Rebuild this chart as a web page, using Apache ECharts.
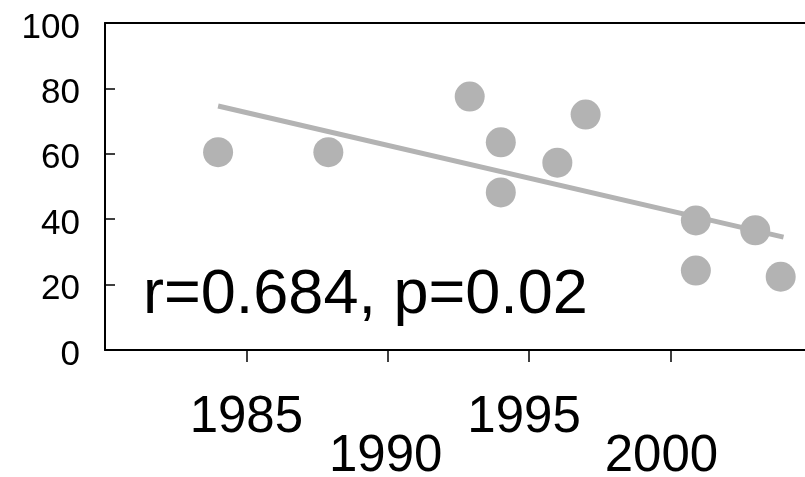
<!DOCTYPE html>
<html>
<head>
<meta charset="utf-8">
<script src="https://cdn.jsdelivr.net/npm/echarts@6/dist/echarts.min.js"></script>
<style>
  html, body { margin: 0; padding: 0; background: #fff; }
  #chart { width: 805px; height: 477px; }
</style>
</head>
<body>
<div id="chart"></div>
<script>
// scatter points (year, value)
const years = [1984.0, 1987.9, 1992.9, 1994.0, 1994.0, 1996.0, 1997.0, 2000.9, 2000.9, 2003.0, 2003.9];
const values = [60.5, 60.5, 77.5, 63.5, 48.2, 57.3, 72.0, 39.6, 24.3, 36.6, 22.4];

// fitted trend line end points
const trendYears = [1984.0, 2004.0];
const trendValues = [74.6, 34.5];

const xTicks = [1985, 1990, 1995, 2000];
const yTicks = [20, 40, 60, 80];
const statsText = "r=0.684, p=0.02";

const FONT = "Liberation Sans, Arial, sans-serif";
const GREY = "#b3b3b3";

const chart = echarts.init(document.getElementById("chart"), null, { renderer: "canvas" });

// x labels are staggered and nudged a little left in the original
const labelStyle = (shift) => ({
  fontSize: 51,
  lineHeight: 39,
  color: "#000",
  fontFamily: FONT,
  padding: [0, shift * 2, 0, 0],
});

const option = {
  backgroundColor: "#fff",
  animation: false,
  // right edge of the frame is cut off by the picture
  grid: { left: 105, top: 23, right: 0, bottom: 127, outerBoundsMode: "none", containLabel: false },
  xAxis: [
    {
      type: "value",
      min: 1980,
      max: 2004.76,
      splitLine: { show: false },
      axisLine: { lineStyle: { color: "#000", width: 2 } },
      axisTick: { show: true, length: 12, customValues: xTicks, lineStyle: { color: "#000", width: 1.5 } },
      axisLabel: {
        customValues: xTicks,
        margin: 48,
        fontSize: 51,
        lineHeight: 39,
        color: "#000",
        fontFamily: FONT,
        formatter: v => {
          if (v === 1985) return "{a|1985}";
          if (v === 1990) return "\n{b|1990}";
          if (v === 1995) return "{c|1995}";
          return "\n{d|" + v + "}";
        },
        rich: { a: labelStyle(0), b: labelStyle(2), c: labelStyle(5), d: labelStyle(9) },
      },
    },
    {
      type: "value",
      position: "top",
      min: 1980,
      max: 2004.76,
      splitLine: { show: false },
      axisLine: { show: true, lineStyle: { color: "#000", width: 2 } },
      axisTick: { show: false },
      axisLabel: { show: false },
    },
  ],
  yAxis: {
    type: "value",
    min: 0,
    max: 100,
    interval: 20,
    splitLine: { show: false },
    axisLine: { show: true, lineStyle: { color: "#000", width: 2 } },
    axisTick: { show: true, inside: true, length: 10, customValues: yTicks, lineStyle: { color: "#000", width: 1.5 } },
    axisLabel: {
      margin: 25,
      color: "#000",
      formatter: v => "{v|" + v + "}",
      rich: { v: { fontSize: 35, fontFamily: FONT, color: "#000", padding: [10, 0, 0, 0] } },
    },
  },
  graphic: [
    {
      type: "text",
      x: 143,
      y: 296,
      style: {
        text: statsText,
        fontSize: 63,
        fontFamily: FONT,
        fill: "#000",
        verticalAlign: "middle",
      },
    },
  ],
  series: [
    {
      type: "line",
      data: trendYears.map((y, i) => [y, trendValues[i]]),
      showSymbol: false,
      lineStyle: { color: GREY, width: 5 },
      z: 2,
    },
    {
      type: "scatter",
      data: years.map((y, i) => [y, values[i]]),
      symbolSize: 30,
      itemStyle: { color: GREY, opacity: 1 },
      z: 3,
    },
  ],
};

chart.setOption(option);
</script>
</body>
</html>
